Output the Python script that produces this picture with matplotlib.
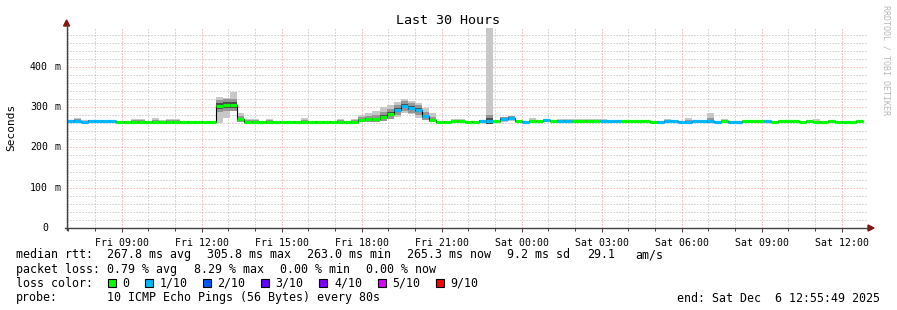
import numpy as np
import matplotlib
matplotlib.use("Agg")
import matplotlib.pyplot as plt
from matplotlib.patches import Rectangle, Polygon

W, H = 897, 310

# time axis in hours counted from Fri 00:00
t_start = 6 + 55/60 + 49/3600     # Fri 06:55:49
t_end = t_start + 30              # Sat 12:55:49
bin0 = 6 + 56/60                  # first 960 s bin
step_h = 16/60

# median rtt per 16 min bin (ms)
median_ms = [266, 266, 264, 266, 265, 265, 265,
             264, 264, 264, 264, 264, 264, 264, 264, 264, 264, 264, 264, 264, 264,
             303, 305, 305, 271,
             264, 264, 264, 264, 264, 264, 264, 264, 264, 264, 264, 264, 264, 264, 264, 264,
             269, 270, 270, 275, 282, 293, 303, 298, 293, 277, 268,
             264, 264, 265, 265, 264, 264,
             266, 266, 265, 271, 273, 266, 263, 265, 265, 268, 265, 266, 266,
             265, 265, 265, 265,
             265, 265, 265,
             265, 265, 265, 265,
             263, 263, 265, 265, 263, 263, 265, 265, 265, 263, 265, 263, 263,
             265, 265, 265, 265, 263, 265, 265, 265, 263, 265, 263, 263, 265, 263, 263, 263, 265]

# lost pings (of 10) per bin
loss = [1, 1, 1, 1, 1, 1, 1,
        0, 0, 0, 0, 0, 0, 0, 0, 0, 0, 0, 0, 0, 0,
        0, 0, 0, 0,
        0, 0, 0, 0, 0, 0, 0, 0, 0, 0, 0, 0, 0, 0, 0, 0,
        0, 0, 0, 0, 0, 1, 1, 1, 1, 1, 0,
        0, 0, 0, 0, 0, 0,
        1, 1, 0, 1, 1, 0, 1, 0, 0, 1, 0, 1, 1,
        0, 0, 0, 0,
        1, 1, 1,
        0, 0, 0, 0,
        0, 1, 1, 1, 1, 1, 1, 1, 1, 1, 0, 1, 1,
        0, 0, 0, 1, 0, 0, 0, 0, 0, 0, 0, 0, 0, 0, 0, 0, 0]

# smoke (ping spread) upper / lower edge per bin (ms)
smoke_hi = [268, 273, 268, 268, 268, 268, 268,
            266, 266, 270, 270, 266, 272, 269, 270, 270, 266, 266, 266, 266, 266,
            326, 322, 337, 285,
            271, 271, 266, 271, 266, 266, 266, 266, 272, 266, 266, 266, 266, 271, 266, 271,
            280, 285, 290, 300, 305, 312, 320, 316, 310, 298, 285,
            266, 266, 271, 271, 266, 266,
            268, 496, 267, 276, 277, 268, 266, 273, 267, 270, 267, 271, 271,
            270, 270, 270, 270,
            271, 268, 267,
            267, 267, 267, 267,
            266, 266, 270, 268, 266, 274, 267, 267, 286, 266, 270, 266, 266,
            267, 267, 267, 267, 266, 267, 267, 267, 266, 267, 270, 266, 267, 266, 266, 266, 267]

smoke_lo = [263, 263, 262, 263, 263, 263, 263,
            262, 262, 262, 262, 262, 262, 262, 262, 262, 262, 262, 262, 262, 262,
            260, 274, 290, 264,
            262, 262, 262, 262, 262, 262, 262, 262, 262, 262, 262, 262, 262, 262, 262, 262,
            262, 263, 263, 266, 270, 275, 285, 282, 272, 268, 262,
            262, 262, 262, 262, 262, 262,
            263, 263, 263, 264, 265, 263, 261, 263, 263, 264, 263, 263, 263,
            263, 263, 263, 263,
            263, 263, 263,
            263, 263, 263, 263,
            261, 261, 263, 263, 261, 261, 263, 263, 263, 261, 263, 261, 261,
            263, 263, 263, 263, 261, 263, 263, 263, 261, 263, 261, 261, 263, 261, 261, 261, 263]

loss_colors = ['#00ff00', '#00b8ff', '#0059ff', '#5e00ff', '#7e00ff', '#dd00ff', '#ff0000']
loss_labels = ['0', '1/10', '2/10', '3/10', '4/10', '5/10', '9/10']
loss_index = {0: 0, 1: 1, 2: 2, 3: 3, 4: 4, 5: 5, 9: 6}

rtt_stats = [267.8, 305.8, 263.0, 265.3]
loss_stats = [0.79, 8.29, 0.00, 0.00]
stat_names = ['avg', 'max', 'min', 'now']
rtt_sd = 9.2
rtt_ams = 29.1

mono = 'DejaVu Sans Mono'
plt.rcParams['font.family'] = [mono]


def fx(px):
    return px / W


def fy(py):
    return 1 - py / H


fig = plt.figure(figsize=(W / 100, H / 100), dpi=100)
fig.patch.set_facecolor('white')

x0, x1 = 66.6, 866.6
y0, y1 = 228.0, 26.5
ax = fig.add_axes([fx(x0), fy(y0), (x1 - x0) / W, (y0 - y1) / H])
ax.set_xlim(t_start, t_end)
ax.set_ylim(0, 0.5)
ax.set_facecolor('white')
for s in ax.spines.values():
    s.set_visible(False)

# grid
ax.set_xticks(np.arange(9, 37, 3))
ax.set_xticks(np.arange(7, 37, 1), minor=True)
ax.set_yticks(np.arange(0, 0.5, 0.1))
ax.set_yticks(np.arange(0, 0.5, 0.02), minor=True)
ax.grid(which='minor', color='#b4b4b4', linestyle=(0, (1, 2)), linewidth=0.72, zorder=0)
ax.grid(which='major', color='#ee9090', linestyle=(0, (1, 2)), linewidth=0.72, zorder=0)
ax.set_axisbelow(True)


def hour_label(h):
    day = 'Fri' if h < 24 else 'Sat'
    return '%s %02d:00' % (day, h % 24)


ax.set_xticklabels([hour_label(h) for h in range(9, 37, 3)], fontsize=7.1)
ax.tick_params(axis='x', which='major', length=3, width=0.7, color='#404040', pad=4)
ax.tick_params(axis='x', which='minor', length=2, width=0.7, color='#404040')
ax.tick_params(axis='y', which='both', length=0, labelleft=False)

# y tick labels in rrdtool style: number, then unit
for v in range(0, 500, 100):
    py = y0 - v / 500 * (y0 - y1)
    fig.text(fx(48), fy(py), str(v), ha='right', va='center', fontsize=7.1)
    if v > 0:
        fig.text(fx(54), fy(py), 'm', ha='left', va='center', fontsize=7.1)

# smoke
edges = bin0 + np.arange(len(median_ms) + 1) * step_h
lefts = edges[:-1]
med = np.array(median_ms) / 1000
hi = np.array(smoke_hi) / 1000
lo = np.array(smoke_lo) / 1000
ax.bar(lefts, hi - lo, bottom=lo, width=step_h, align='edge',
       color='#c8c8c8', linewidth=0, zorder=2)
spread = np.minimum(0.35 * (hi - lo), 0.015)
in_lo = np.maximum(lo, med - spread)
in_hi = np.minimum(hi, med + spread)
ax.bar(lefts, in_hi - in_lo, bottom=in_lo, width=step_h, align='edge',
       color='#969696', linewidth=0, zorder=2)
spread2 = np.minimum(0.15 * (hi - lo), 0.007)
ax.bar(lefts, 2 * spread2, bottom=med - spread2, width=step_h, align='edge',
       color='#4a4a4a', linewidth=0, zorder=2)

# median line
ax.stairs(med, edges, color='black', linewidth=0.8, baseline=None, zorder=3)
cols = [loss_colors[loss_index[l]] for l in loss]
ax.hlines(med, lefts, edges[1:], colors=cols, linewidth=2.3, zorder=4)

# axes lines and arrows
axc = '#404040'
fig.add_artist(plt.Line2D([fx(x0 - 2), fx(869)], [fy(y0), fy(y0)], color=axc, linewidth=1.0))
fig.add_artist(plt.Line2D([fx(x0), fx(x0)], [fy(y0 + 2), fy(24)], color=axc, linewidth=1.0))
arrow_c = '#8b1010'
fig.add_artist(Polygon([[fx(868), fy(225)], [fx(874), fy(228)], [fx(868), fy(231)]],
                       closed=True, color=arrow_c, transform=fig.transFigure))
fig.add_artist(Polygon([[fx(63.6), fy(26)], [fx(66.6), fy(20)], [fx(69.6), fy(26)]],
                       closed=True, color=arrow_c, transform=fig.transFigure))

# titles
fig.text(fx(448), fy(24), 'Last 30 Hours', ha='center', va='baseline', fontsize=9.6)
fig.text(fx(11), fy(127), 'Seconds', ha='center', va='center', rotation=90, fontsize=8)
fig.text(fx(886), fy(60), 'RRDTOOL / TOBI OETIKER', ha='center', va='center',
         rotation=270, fontsize=6, color='#b8b8b8')

# legend
fs = 8.4
cw = 7.19
b1, b2, b3, b4 = 258.3, 272.8, 287.0, 301.5
fig.text(fx(16), fy(b1), 'median rtt:', fontsize=fs, va='baseline')
for i, (v, n) in enumerate(zip(rtt_stats, stat_names)):
    fig.text(fx(107.3 + i * 100), fy(b1), '%.1f ms %s' % (v, n), fontsize=fs, va='baseline')
fig.text(fx(506.7), fy(b1), '%.1f ms sd' % rtt_sd, fontsize=fs, va='baseline')
fig.text(fx(587.3), fy(b1), '%.1f' % rtt_ams, fontsize=fs, va='baseline')
fig.text(fx(635), fy(b1), 'am/s', fontsize=fs, va='baseline')

fig.text(fx(16), fy(b2), 'packet loss:', fontsize=fs, va='baseline')
for i, (v, n) in enumerate(zip(loss_stats, stat_names)):
    fig.text(fx(107.3 + i * 86.3), fy(b2), '%.2f %% %s' % (v, n), fontsize=fs, va='baseline')

fig.text(fx(16), fy(b3), 'loss color:', fontsize=fs, va='baseline')
bx = 108.0
for c, lab in zip(loss_colors, loss_labels):
    fig.add_artist(Rectangle((fx(bx), fy(287)), 8 / W, 8 / H, facecolor=c,
                             edgecolor='black', linewidth=0.8, transform=fig.transFigure))
    tx = bx + 14.5
    fig.text(fx(tx), fy(b3), lab, fontsize=fs, va='baseline')
    bx = tx + len(lab) * cw + 15

fig.text(fx(16), fy(b4), 'probe:', fontsize=fs, va='baseline')
fig.text(fx(107.3), fy(b4), '10 ICMP Echo Pings (56 Bytes) every 80s', fontsize=fs, va='baseline')
fig.text(fx(880), fy(b4), 'end: Sat Dec  6 12:55:49 2025', fontsize=fs, va='baseline', ha='right')

fig.savefig('out.png', dpi=100, facecolor='white')
